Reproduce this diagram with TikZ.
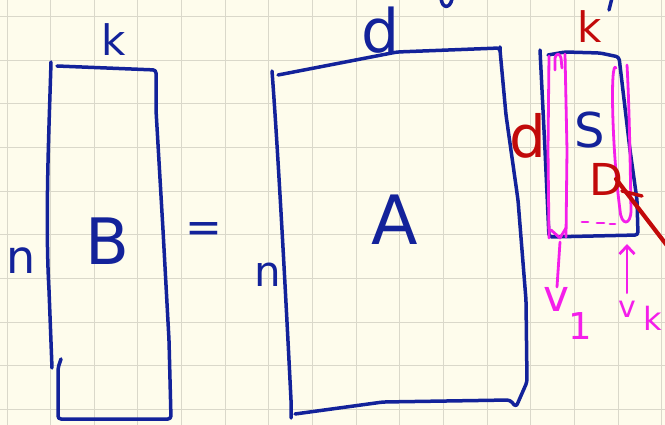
\documentclass[tikz,border=0pt]{standalone}
\usepackage{fontspec}
\setmainfont{DejaVu Sans}
\usetikzlibrary{arrows.meta}
\definecolor{paper}{HTML}{FEFCEC}
\definecolor{gridc}{HTML}{DAD8CA}
\definecolor{navyink}{HTML}{13229A}
\definecolor{redink}{HTML}{C20A0A}
\definecolor{magink}{HTML}{F41EEA}
\newcommand\hsz[1]{\fontsize{#1}{#1}\selectfont}
\begin{document}
\begin{tikzpicture}[x=1pt,y=-1pt,
  gridline/.style={draw=gridc, line width=1pt},
  ink/.style={line width=3.5pt, line cap=round, line join=round},
  blue ink/.style={ink, draw=navyink},
  red ink/.style={ink, draw=redink},
  mag ink/.style={ink, draw=magink, line width=2.8pt},
  lab/.style={inner sep=0pt, outer sep=0pt},
  bluelab/.style={lab, text=navyink},
  redlab/.style={lab, text=redink},
  maglab/.style={lab, text=magink}]
\useasboundingbox (0,0) rectangle (665,425);
\clip (0,0) rectangle (665,425);
\fill[paper] (0,0) rectangle (665,425);
\foreach \i in {0,...,15} \draw[gridline] ({7+43.65*\i},0) -- ({7+43.65*\i},425);
\foreach \j in {0,...,9} \draw[gridline] (0,{16.5+43.65*\j}) -- (665,{16.5+43.65*\j});

% partial strokes cut at the top
\draw[blue ink] (441,-2) .. controls (442,9) and (450,9) .. (452,-1);
\draw[blue ink] (612,-2) -- (609,10);

% ---- matrix B ----
\draw[blue ink] (51,62) .. controls (49,130) and (45,220) .. (49,290) -- (52,368);
\draw[blue ink, rounded corners=3pt] (61,359) -- (58,368) -- (58,419) -- (171,419) -- (169,340) -- (163,230) -- (156,110) -- (156,70) -- (57,66);
\node[bluelab] (Bk) at (114,40) {\hsz{42}k};
\node[bluelab] (Bn) at (21,261) {\hsz{46}n};
\node[bluelab] (B) at (107,241) {\hsz{64}B};
\node[bluelab] (eq) at (204,233) {\hsz{44}=};

% ---- matrix A ----
\draw[blue ink] (272,71) .. controls (278,150) and (286,300) .. (291,400) -- (291,418);
\draw[blue ink, rounded corners=3pt] (295,414) -- (383,402) -- (510,400) -- (516,407) -- (527,382) -- (526,300) -- (518,200) -- (506,115) -- (500,50) -- (500,48) -- (397,52) -- (278,75);
\node[bluelab] (Ad) at (381,30) {\hsz{60}d};
\node[bluelab] (An) at (268,275) {\hsz{42}n};
\node[bluelab] (A) at (395,220) {\hsz{68}A};

% ---- matrix S ----
\draw[blue ink, rounded corners=3pt] (540,50) -- (545,150) -- (549,237) -- (638,235) -- (637,200) -- (630,150) -- (619,57) -- (600,53) -- (565,52) -- (548,55);
\node[redlab] (Sd) at (528,136) {\hsz{58}d};
\node[redlab] (Sk) at (590,27) {\hsz{42}k};
\node[bluelab] (S) at (590,130) {\hsz{48}S};

% magenta columns
\draw[mag ink] (549,238) -- (548,150) -- (549,56);
\draw[mag ink] (555,70) -- (555,58) .. controls (556,53) and (560,53) .. (561,58) -- (562,68);
\draw[mag ink] (566,237) -- (567,150) -- (565,54);
\draw[mag ink] (551,230) -- (560,238) -- (566,228);
\draw[mag ink] (616,68) .. controls (610,58) and (612,150) .. (620,210) .. controls (621,226) and (631,226) .. (631,210) .. controls (630,150) and (629,100) .. (627,65);
\coordinate (col1) at (560,242);
\coordinate (colk) at (627,244);
\draw[mag ink] (582,222) -- (588,222) (597,223) -- (604,223) (610,224) -- (615,224);

\node[maglab] (v1) at (557,299) {\hsz{44}v};
\node[maglab] (v1s) at (580,326) {\hsz{37}1};
\node[maglab] (vk) at (627,309) {\hsz{30}v};
\node[maglab] (vks) at (653,318) {\hsz{32}k};
\draw[mag ink] (col1) -- (v1.north);
\draw[mag ink, -{Straight Barb[length=8pt,width=15pt]}] (vk.north) ++(0,-8) -- (colk);

% red D with arrow leaving
\node[redlab] (D) at (606,179) {\hsz{44}D};
\coordinate (Dout) at (672,252);
\draw[red ink] (622,191) -- (642,196);
\draw[red ink, line width=4.2pt] (D.center) ++(10,0) -- (Dout);
\end{tikzpicture}
\end{document}
